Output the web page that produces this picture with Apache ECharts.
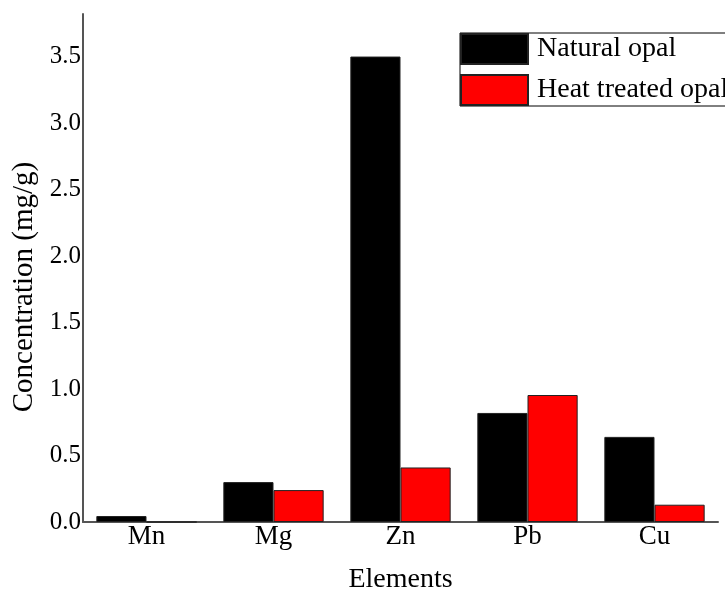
<!DOCTYPE html>
<html>
<head>
<meta charset="utf-8">
<script src="https://cdn.jsdelivr.net/npm/echarts@6/dist/echarts.min.js"></script>
<style>
html,body{margin:0;padding:0;background:#fff;overflow:hidden;}
#chart{width:725px;height:590px;}
</style>
</head>
<body>
<div id="chart"></div>
<script>
const categories = ['Mn', 'Mg', 'Zn', 'Pb', 'Cu'];
const naturalOpal = [0.045, 0.30, 3.50, 0.82, 0.64];
const heatTreatedOpal = [0.0, 0.24, 0.41, 0.955, 0.13];
const seriesNames = ['Natural opal', 'Heat treated opal'];

const font = 'Liberation Serif, Times New Roman, serif';
const chart = echarts.init(document.getElementById('chart'), null, {renderer: 'canvas'});
chart.setOption({
  backgroundColor: '#fff',
  animation: false,
  textStyle: {fontFamily: font},
  grid: {left: 83, right: 7, top: 14, bottom: 68, containLabel: false, outerBoundsMode: 'none'},
  legend: {
    data: seriesNames,
    orient: 'vertical',
    left: 460,
    top: 33,
    itemWidth: 67,
    itemHeight: 30,
    itemGap: 9,
    padding: [0, 30, 0, 0],
    borderColor: '#000',
    borderWidth: 1,
    icon: 'rect',
    textStyle: {fontFamily: font, fontSize: 28, color: '#000', padding: [0, 0, 0, 4]}
  },
  xAxis: {
    type: 'category',
    data: categories,
    name: 'Elements',
    nameLocation: 'middle',
    nameGap: 44,
    nameTextStyle: {fontFamily: font, fontSize: 28, color: '#000'},
    axisLine: {lineStyle: {color: '#555', width: 2}},
    axisTick: {show: false},
    axisLabel: {fontFamily: font, fontSize: 27, color: '#000', margin: 1}
  },
  yAxis: {
    type: 'value',
    min: 0,
    max: 3.82,
    interval: 0.5,
    name: 'Concentration (mg/g)',
    nameLocation: 'middle',
    nameGap: 43,
    nameTextStyle: {fontFamily: font, fontSize: 29, color: '#000', padding: [0, 38, 0, 0]},
    axisLine: {show: true, lineStyle: {color: '#555', width: 2}},
    axisTick: {show: false},
    splitLine: {show: false},
    axisLabel: {
      fontFamily: font, fontSize: 25, color: '#000', margin: 2,
      showMaxLabel: false,
      formatter: v => v.toFixed(1)
    }
  },
  series: [
    {
      name: seriesNames[0],
      type: 'bar',
      data: naturalOpal,
      barGap: '0%',
      barCategoryGap: '21%',
      itemStyle: {color: '#000', borderColor: '#222', borderWidth: 1}
    },
    {
      name: seriesNames[1],
      type: 'bar',
      data: heatTreatedOpal,
      itemStyle: {color: '#ff0000', borderColor: '#222', borderWidth: 1}
    }
  ]
});
</script>
</body>
</html>
